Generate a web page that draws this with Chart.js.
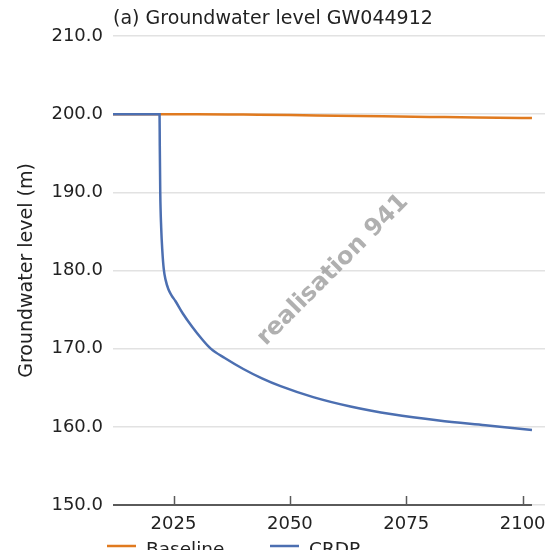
<!DOCTYPE html>
<html lang="en">
<head>
  <meta charset="UTF-8" />
  <title>Groundwater level GW044912</title>
  <script src="https://cdn.jsdelivr.net/npm/chart.js"></script>
  <style>
    html, body { margin: 0; padding: 0; background: #fff; overflow: hidden; }
    #wrap { width: 545px; height: 550px; overflow: hidden; }
  </style>
</head>
<body>
<div id="wrap">
  <canvas id="gwChart" width="545" height="565"></canvas>
</div>

<script>
  // data
  const baselineYears = [2012, 2022, 2030, 2040, 2050, 2060, 2070, 2080, 2090, 2102];
  const baselineLevel = [200.0, 200.0, 200.0, 199.95, 199.9, 199.8, 199.72, 199.65, 199.58, 199.5];

  const crdpYears = [2012, 2022.0, 2022.05, 2022.15, 2022.35, 2022.6, 2022.9, 2023.3, 2023.9, 2024.6,
                     2025.4, 2027, 2029, 2031, 2033, 2036, 2040, 2044, 2048, 2055, 2063, 2072, 2082, 2092, 2102];
  const crdpLevel = [200.0, 200.0, 196.0, 190.0, 185.5, 182.5, 180.2, 178.8, 177.6, 176.8,
                     176.1, 174.5, 172.8, 171.3, 170.0, 168.8, 167.4, 166.2, 165.2, 163.8, 162.6, 161.6, 160.8, 160.2, 159.6];

  const xTicks = [2025, 2050, 2075, 2100];
  const yTicks = [150, 160, 170, 180, 190, 200, 210];

  const seriesLabels = ['Baseline', 'CRDP'];
  const seriesColors = ['#e07a1f', '#4c6fb1'];

  const FONT = '"DejaVu Sans", Verdana, sans-serif';

  const toPoints = (xs, ys) => xs.map((x, i) => ({ x: x, y: ys[i] }));

  // title, watermark, inward ticks, axis line, legend
  const extras = {
    id: 'extras',
    afterDatasetsDraw(chart) {
      const ctx = chart.ctx;
      const area = chart.chartArea;
      const xs = chart.scales.x;
      const ys = chart.scales.y;

      // x axis line up to the last data year, then the light grid continues
      const lastX = xs.getPixelForValue(crdpYears[crdpYears.length - 1]);
      const y0 = ys.getPixelForValue(150);
      ctx.save();
      ctx.strokeStyle = '#5a5a5a';
      ctx.lineWidth = 2;
      ctx.beginPath();
      ctx.moveTo(area.left, y0);
      ctx.lineTo(lastX, y0);
      ctx.stroke();

      // tick marks pointing inward
      ctx.lineWidth = 1.5;
      xTicks.forEach(t => {
        const px = Math.round(xs.getPixelForValue(t)) + 0.5;
        ctx.beginPath();
        ctx.moveTo(px, y0);
        ctx.lineTo(px, y0 - 9);
        ctx.stroke();
      });

      // watermark
      ctx.translate(333, 270);
      ctx.rotate(-Math.PI / 4);
      ctx.fillStyle = 'rgba(150,150,150,0.75)';
      ctx.font = 'bold 24px ' + FONT;
      ctx.textAlign = 'center';
      ctx.textBaseline = 'middle';
      ctx.fillText('realisation 941', 0, 0);
      ctx.restore();

      // title
      ctx.save();
      ctx.fillStyle = '#222';
      ctx.font = '19px ' + FONT;
      ctx.textAlign = 'left';
      ctx.textBaseline = 'middle';
      ctx.fillText('(a) Groundwater level GW044912', area.left, 19);

      // legend (cut by the bottom edge like the reference)
      const legendX = [107, 270];
      ctx.font = '18.5px ' + FONT;
      chart.data.datasets.forEach((ds, i) => {
        ctx.strokeStyle = ds.borderColor;
        ctx.lineWidth = 2.5;
        ctx.beginPath();
        ctx.moveTo(legendX[i], 546);
        ctx.lineTo(legendX[i] + 29, 546);
        ctx.stroke();
        ctx.fillStyle = '#222';
        ctx.fillText(ds.label, legendX[i] + 39, 550);
      });
      ctx.restore();
    }
  };

  new Chart(document.getElementById('gwChart'), {
    type: 'line',
    data: {
      datasets: [
        {
          label: seriesLabels[0],
          data: toPoints(baselineYears, baselineLevel),
          borderColor: seriesColors[0],
          borderWidth: 2.5,
          pointRadius: 0,
          cubicInterpolationMode: 'monotone',
          order: 2
        },
        {
          label: seriesLabels[1],
          data: toPoints(crdpYears, crdpLevel),
          borderColor: seriesColors[1],
          borderWidth: 2.5,
          pointRadius: 0,
          cubicInterpolationMode: 'monotone',
          order: 1
        }
      ]
    },
    options: {
      responsive: false,
      animation: false,
      layout: { padding: { top: 36, right: 0, bottom: 0, left: 0 } },
      plugins: {
        legend: { display: false },
        title: { display: false },
        tooltip: { enabled: false }
      },
      scales: {
        x: {
          type: 'linear',
          min: 2012,
          max: 2104.8,
          afterBuildTicks: s => { s.ticks = xTicks.map(v => ({ value: v })); },
          afterFit: s => { s.height = 60; s.paddingRight = 0; s.paddingLeft = 0; },
          border: { display: false },
          grid: { display: false, drawTicks: false },
          ticks: {
            padding: 9,
            color: '#222',
            font: { family: FONT, size: 18 },
            maxRotation: 0,
            callback: v => String(v)
          }
        },
        y: {
          min: 150,
          max: 210,
          afterBuildTicks: s => { s.ticks = yTicks.map(v => ({ value: v })); },
          afterFit: s => { s.width = 113; },
          border: { display: false },
          grid: { color: '#e2e2e2', lineWidth: 1.5, drawTicks: false },
          ticks: {
            padding: 10,
            color: '#222',
            font: { family: FONT, size: 18 },
            callback: v => v.toFixed(1)
          },
          title: {
            display: true,
            text: 'Groundwater level (m)',
            color: '#222',
            font: { family: FONT, size: 19 },
            padding: { top: 16, bottom: 0 }
          }
        }
      }
    },
    plugins: [extras]
  });
</script>
</body>
</html>
